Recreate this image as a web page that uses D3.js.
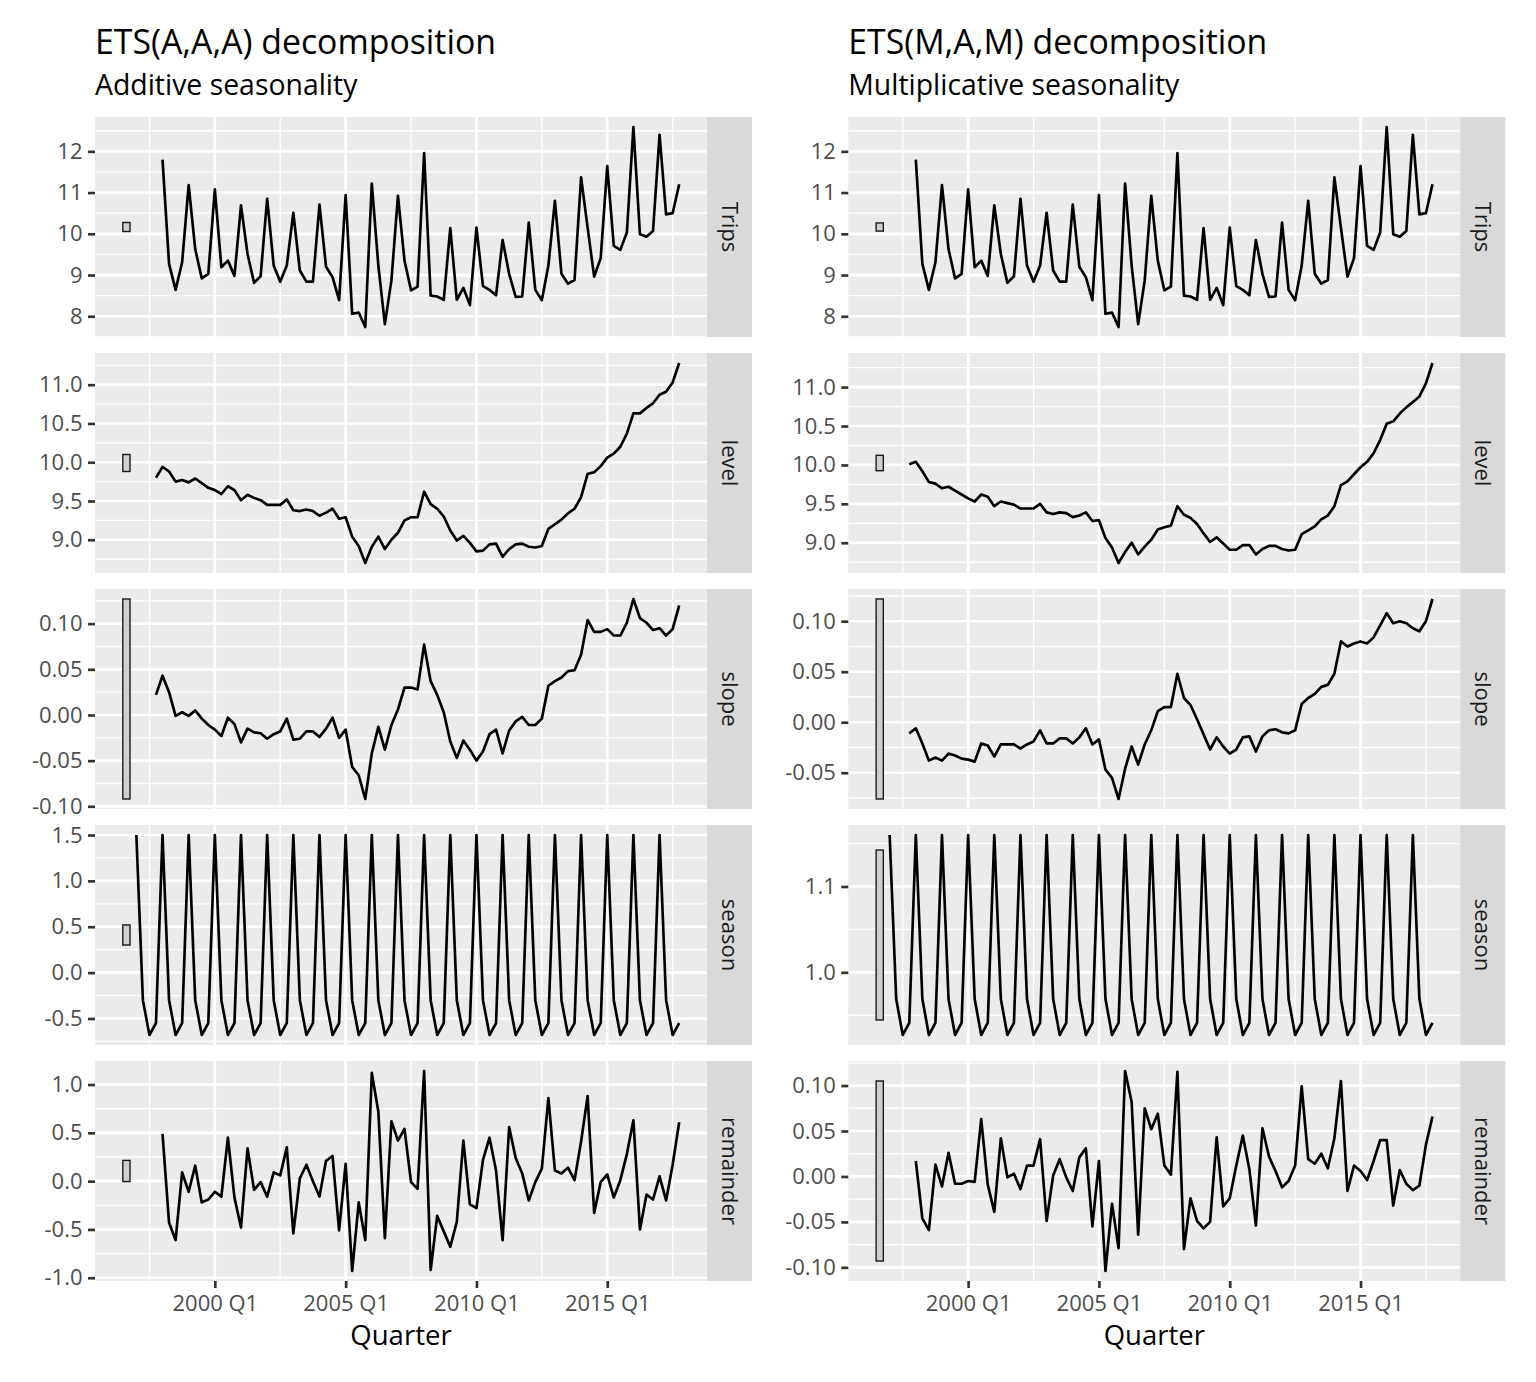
<!DOCTYPE html>
<html><head><meta charset="utf-8">
<script src="https://cdn.jsdelivr.net/npm/d3@7"></script>
<style>
body{margin:0;background:#fff}
svg text{font-family:"Open Sans",sans-serif}
</style>
</head><body>
<svg id="chart" width="1536" height="1382"></svg>
<script>
// ---------------- DATA ----------------
const facetNames = ["Trips", "level", "slope", "season", "remainder"];
const xTickValues = [2000, 2005, 2010, 2015];
const xTickLabels = ["2000 Q1", "2005 Q1", "2010 Q1", "2015 Q1"];
const xMinorValues = [1997.5, 2002.5, 2007.5, 2012.5, 2017.5];

// first quarter of each series, as decimal year (1998 Q1 = 1998.00)
const startTrips = 1998.0, startState = 1997.75, startSeason = 1997.0, startRemainder = 1998.0;
const lastQuarter = 2017.75;
const scaleBarAt = 1996.62, scaleBarWidth = 0.275;

const trips = [11.80,9.27,8.64,9.31,11.18,9.63,8.92,9.03,11.08,9.19,
  9.35,8.98,10.69,9.51,8.81,8.97,10.85,9.23,8.84,9.23,
  10.51,9.11,8.84,8.84,10.71,9.20,8.95,8.39,10.94,8.06,
  8.09,7.74,11.22,9.23,7.81,8.87,10.92,9.35,8.63,8.72,
  11.96,8.50,8.48,8.40,10.14,8.40,8.69,8.27,10.15,8.73,
  8.64,8.51,9.85,9.03,8.47,8.48,10.27,8.64,8.39,9.23,
  10.80,9.03,8.79,8.88,11.37,10.15,8.96,9.41,11.64,9.71,
  9.61,10.03,12.59,9.99,9.93,10.07,12.40,10.47,10.50,11.20];

const aaaLevel = [9.80,9.94,9.88,9.75,9.77,9.74,9.79,9.73,9.67,9.64,
  9.59,9.69,9.64,9.51,9.58,9.54,9.51,9.45,9.45,9.45,
  9.52,9.38,9.37,9.39,9.37,9.31,9.35,9.40,9.27,9.29,
  9.04,8.92,8.70,8.91,9.04,8.88,9.00,9.09,9.25,9.29,
  9.29,9.62,9.46,9.40,9.30,9.12,8.99,9.05,8.96,8.85,
  8.86,8.94,8.95,8.78,8.88,8.94,8.95,8.91,8.90,8.92,
  9.14,9.20,9.26,9.34,9.40,9.55,9.85,9.87,9.95,10.06,
  10.11,10.20,10.37,10.63,10.63,10.70,10.76,10.87,10.91,11.03,
  11.28];

const aaaSlope = [0.022,0.043,0.025,-0.001,0.003,-0.001,0.005,-0.004,-0.011,-0.016,
  -0.023,-0.003,-0.010,-0.030,-0.015,-0.019,-0.020,-0.026,-0.021,-0.018,
  -0.004,-0.027,-0.026,-0.018,-0.018,-0.024,-0.015,-0.003,-0.025,-0.016,
  -0.057,-0.066,-0.092,-0.042,-0.013,-0.038,-0.011,0.006,0.030,0.030,
  0.028,0.077,0.037,0.022,0.003,-0.029,-0.047,-0.028,-0.038,-0.050,
  -0.040,-0.021,-0.016,-0.042,-0.017,-0.007,-0.002,-0.011,-0.011,-0.004,
  0.032,0.037,0.041,0.048,0.049,0.066,0.104,0.091,0.091,0.094,
  0.087,0.087,0.101,0.127,0.106,0.101,0.093,0.095,0.087,0.094,
  0.120];

const aaaSeason = [1.50,-0.30,-0.68,-0.55, 1.50,-0.30,-0.68,-0.55, 1.50,-0.30,-0.68,-0.55,
  1.50,-0.30,-0.68,-0.55, 1.50,-0.30,-0.68,-0.55, 1.50,-0.30,-0.68,-0.55,
  1.50,-0.30,-0.68,-0.55, 1.50,-0.30,-0.68,-0.55, 1.50,-0.30,-0.68,-0.55,
  1.50,-0.30,-0.68,-0.55, 1.50,-0.30,-0.68,-0.55, 1.50,-0.30,-0.68,-0.55,
  1.50,-0.30,-0.68,-0.55, 1.50,-0.30,-0.68,-0.55, 1.50,-0.30,-0.68,-0.55,
  1.50,-0.30,-0.68,-0.55, 1.50,-0.30,-0.68,-0.55, 1.50,-0.30,-0.68,-0.55,
  1.50,-0.30,-0.68,-0.55, 1.50,-0.30,-0.68,-0.55, 1.50,-0.30,-0.68,-0.55];

const aaaRemainder = [0.49,-0.43,-0.61,0.09,-0.11,0.16,-0.22,-0.19,-0.11,-0.16,
  0.45,-0.17,-0.48,0.34,-0.09,-0.01,-0.16,0.09,0.06,0.35,
  -0.54,0.03,0.17,0.00,-0.16,0.21,0.26,-0.51,0.18,-0.93,
  -0.22,-0.61,1.12,0.72,-0.59,0.62,0.42,0.54,-0.01,-0.08,
  1.14,-0.92,-0.36,-0.52,-0.68,-0.42,0.42,-0.24,-0.28,0.22,
  0.45,0.11,-0.61,0.56,0.24,0.08,-0.20,-0.01,0.13,0.86,
  0.11,0.08,0.14,0.01,0.41,0.88,-0.33,-0.01,0.07,-0.17,
  0.01,0.28,0.63,-0.50,-0.14,-0.19,0.05,-0.20,0.17,0.61];

const mamLevel = [10.01,10.04,9.92,9.78,9.76,9.70,9.72,9.67,9.62,9.57,
  9.53,9.62,9.59,9.47,9.53,9.51,9.49,9.44,9.44,9.44,
  9.50,9.39,9.37,9.39,9.38,9.33,9.35,9.39,9.28,9.29,
  9.06,8.94,8.74,8.88,9.00,8.85,8.95,9.04,9.17,9.20,
  9.22,9.47,9.36,9.32,9.24,9.12,9.01,9.07,8.99,8.91,
  8.91,8.97,8.97,8.85,8.92,8.96,8.96,8.92,8.90,8.91,
  9.11,9.16,9.21,9.30,9.35,9.47,9.74,9.79,9.88,9.97,
  10.04,10.15,10.32,10.53,10.56,10.66,10.74,10.81,10.88,11.05,
  11.31];

const mamSlope = [-0.011,-0.006,-0.021,-0.038,-0.035,-0.038,-0.031,-0.033,-0.036,-0.037,
  -0.039,-0.021,-0.023,-0.034,-0.022,-0.022,-0.022,-0.026,-0.022,-0.019,
  -0.008,-0.021,-0.021,-0.016,-0.016,-0.021,-0.015,-0.006,-0.022,-0.017,
  -0.047,-0.055,-0.076,-0.046,-0.024,-0.042,-0.022,-0.008,0.011,0.015,
  0.015,0.048,0.024,0.017,0.003,-0.012,-0.027,-0.015,-0.024,-0.031,
  -0.027,-0.015,-0.014,-0.029,-0.014,-0.008,-0.007,-0.010,-0.011,-0.008,
  0.018,0.024,0.028,0.035,0.037,0.048,0.080,0.075,0.078,0.080,
  0.078,0.084,0.096,0.108,0.098,0.100,0.098,0.093,0.090,0.100,
  0.122];

const mamSeason = [1.160,0.969,0.927,0.941, 1.160,0.969,0.927,0.941, 1.160,0.969,0.927,0.941,
  1.160,0.969,0.927,0.941, 1.160,0.969,0.927,0.941, 1.160,0.969,0.927,0.941,
  1.160,0.969,0.927,0.941, 1.160,0.969,0.927,0.941, 1.160,0.969,0.927,0.941,
  1.160,0.969,0.927,0.941, 1.160,0.969,0.927,0.941, 1.160,0.969,0.927,0.941,
  1.160,0.969,0.927,0.941, 1.160,0.969,0.927,0.941, 1.160,0.969,0.927,0.941,
  1.160,0.969,0.927,0.941, 1.160,0.969,0.927,0.941, 1.160,0.969,0.927,0.941,
  1.160,0.969,0.927,0.941, 1.160,0.969,0.927,0.941, 1.160,0.969,0.927,0.941];

const mamRemainder = [0.017,-0.046,-0.059,0.013,-0.011,0.026,-0.008,-0.008,-0.005,-0.006,
  0.063,-0.009,-0.039,0.042,-0.001,0.003,-0.014,0.012,0.012,0.041,
  -0.049,0.001,0.019,-0.001,-0.016,0.021,0.031,-0.055,0.017,-0.104,
  -0.030,-0.079,0.116,0.082,-0.064,0.075,0.052,0.069,0.012,0.002,
  0.115,-0.080,-0.024,-0.049,-0.057,-0.050,0.043,-0.033,-0.024,0.012,
  0.045,0.008,-0.054,0.053,0.022,0.006,-0.012,-0.005,0.012,0.099,
  0.019,0.014,0.025,0.009,0.042,0.105,-0.016,0.012,0.006,-0.004,
  0.017,0.040,0.040,-0.032,0.007,-0.008,-0.015,-0.010,0.035,0.066];

// tick labels per facet
const tripsTicks = ["8", "9", "10", "11", "12"];
const aaaLevelTicks = ["9.0", "9.5", "10.0", "10.5", "11.0"];
const aaaSlopeTicks = ["-0.10", "-0.05", "0.00", "0.05", "0.10"];
const aaaSeasonTicks = ["-0.5", "0.0", "0.5", "1.0", "1.5"];
const aaaRemainderTicks = ["-1.0", "-0.5", "0.0", "0.5", "1.0"];
const mamLevelTicks = ["9.0", "9.5", "10.0", "10.5", "11.0"];
const mamSlopeTicks = ["-0.05", "0.00", "0.05", "0.10"];
const mamSeasonTicks = ["1.0", "1.1"];
const mamRemainderTicks = ["-0.10", "-0.05", "0.00", "0.05", "0.10"];

const titles = ["ETS(A,A,A) decomposition", "ETS(M,A,M) decomposition"];
const subtitles = ["Additive seasonality", "Multiplicative seasonality"];
const xTitle = "Quarter";

// ---------------- LAYOUT ----------------
const svg = d3.select("#chart");
const panelLefts = [95, 848.3];
const panelW = 612, stripW = 45;
const rowTop0 = 117, rowH = 220, rowGap = 16;
const bg = "#EBEBEB", stripFill = "#D9D9D9";
const majorW = 2.67, minorW = 1.33;

const panels = [
  { series: [
      {v: trips, s: startTrips, t: tripsTicks},
      {v: aaaLevel, s: startState, t: aaaLevelTicks},
      {v: aaaSlope, s: startState, t: aaaSlopeTicks},
      {v: aaaSeason, s: startSeason, t: aaaSeasonTicks},
      {v: aaaRemainder, s: startRemainder, t: aaaRemainderTicks}]},
  { series: [
      {v: trips, s: startTrips, t: tripsTicks},
      {v: mamLevel, s: startState, t: mamLevelTicks},
      {v: mamSlope, s: startState, t: mamSlopeTicks},
      {v: mamSeason, s: startSeason, t: mamSeasonTicks},
      {v: mamRemainder, s: startRemainder, t: mamRemainderTicks}]}
];

// x domain: data + scale bar, expanded 5%
const xLo = scaleBarAt - scaleBarWidth / 2, xHi = lastQuarter;
const xPad = (xHi - xLo) * 0.05;

panels.forEach((p, pi) => {
  const left = panelLefts[pi];
  const x = d3.scaleLinear().domain([xLo - xPad, xHi + xPad]).range([left, left + panelW]);

  // titles
  svg.append("text").attr("x", left).attr("y", 54).attr("font-size", 33.8)
    .attr("fill", "#000").text(titles[pi]);
  svg.append("text").attr("x", left).attr("y", 95).attr("font-size", 28.4)
    .attr("fill", "#000").text(subtitles[pi]);

  const ranges = p.series.map(s => d3.max(s.v) - d3.min(s.v));
  const barLen = d3.min(ranges);

  p.series.forEach((s, ri) => {
    const top = rowTop0 + ri * (rowH + rowGap);
    const [mn, mx] = d3.extent(s.v);
    const mid = (mn + mx) / 2;
    const lo = Math.min(mn, mid - barLen / 2), hi = Math.max(mx, mid + barLen / 2);
    const yPad = (hi - lo) * 0.05;
    const y = d3.scaleLinear().domain([lo - yPad, hi + yPad]).range([top + rowH, top]);

    const g = svg.append("g");
    g.append("rect").attr("x", left).attr("y", top).attr("width", panelW).attr("height", rowH).attr("fill", bg);

    const majors = s.t.map(Number);
    const step = majors.length > 1 ? majors[1] - majors[0] : 0.1;
    const minors = [majors[0] - step / 2].concat(majors.map(m => m + step / 2))
      .filter(m => m >= y.domain()[0] && m <= y.domain()[1]);

    // minor grid
    g.selectAll(".hmin").data(minors).join("line")
      .attr("x1", left).attr("x2", left + panelW)
      .attr("y1", d => y(d)).attr("y2", d => y(d))
      .attr("stroke", "#fff").attr("stroke-width", minorW);
    g.selectAll(".vmin").data(xMinorValues.filter(d => d >= x.domain()[0] && d <= x.domain()[1])).join("line")
      .attr("x1", d => x(d)).attr("x2", d => x(d))
      .attr("y1", top).attr("y2", top + rowH)
      .attr("stroke", "#fff").attr("stroke-width", minorW);
    // major grid
    g.selectAll(".hmaj").data(majors).join("line")
      .attr("x1", left).attr("x2", left + panelW)
      .attr("y1", d => y(d)).attr("y2", d => y(d))
      .attr("stroke", "#fff").attr("stroke-width", majorW);
    g.selectAll(".vmaj").data(xTickValues).join("line")
      .attr("x1", d => x(d)).attr("x2", d => x(d))
      .attr("y1", top).attr("y2", top + rowH)
      .attr("stroke", "#fff").attr("stroke-width", majorW);

    // scale bar
    g.append("rect")
      .attr("x", x(scaleBarAt - scaleBarWidth / 2))
      .attr("width", x(scaleBarAt + scaleBarWidth / 2) - x(scaleBarAt - scaleBarWidth / 2))
      .attr("y", y(mid + barLen / 2))
      .attr("height", y(mid - barLen / 2) - y(mid + barLen / 2))
      .attr("fill", "#D0D0D0").attr("stroke", "#1a1a1a").attr("stroke-width", 1.4);

    // data line
    const line = d3.line().x((d, i) => x(s.s + i * 0.25)).y(d => y(d));
    g.append("path").attr("d", line(s.v)).attr("fill", "none")
      .attr("stroke", "#000").attr("stroke-width", 2.67).attr("stroke-linejoin", "round");

    // strip
    g.append("rect").attr("x", left + panelW).attr("y", top).attr("width", stripW).attr("height", rowH).attr("fill", stripFill);
    g.append("text")
      .attr("transform", `translate(${left + panelW + stripW / 2},${top + rowH / 2}) rotate(90)`)
      .attr("text-anchor", "middle").attr("dy", "0.35em")
      .attr("font-size", 22).attr("fill", "#1A1A1A").text(facetNames[ri]);

    // y axis
    const ya = svg.append("g").attr("transform", `translate(${left},0)`)
      .call(d3.axisLeft(y).tickValues(majors).tickFormat((d, i) => s.t[i]).tickSize(7).tickPadding(5.5));
    ya.select(".domain").remove();
    ya.selectAll("line").attr("stroke", "#333333").attr("stroke-width", majorW);
    ya.selectAll("text").attr("fill", "#4D4D4D").attr("font-size", 22)
      .attr("font-family", "'Open Sans', sans-serif");

    if (ri === p.series.length - 1) {
      const xa = svg.append("g").attr("transform", `translate(0,${top + rowH})`)
        .call(d3.axisBottom(x).tickValues(xTickValues).tickFormat((d, i) => xTickLabels[i]).tickSize(7).tickPadding(7));
      xa.select(".domain").remove();
      xa.selectAll("line").attr("stroke", "#333333").attr("stroke-width", majorW);
      xa.selectAll("text").attr("fill", "#4D4D4D").attr("font-size", 22)
        .attr("font-family", "'Open Sans', sans-serif");
      svg.append("text").attr("x", left + panelW / 2).attr("y", 1345)
        .attr("text-anchor", "middle").attr("font-size", 27.5).attr("fill", "#000").text(xTitle);
    }
  });
});
</script>
</body></html>
